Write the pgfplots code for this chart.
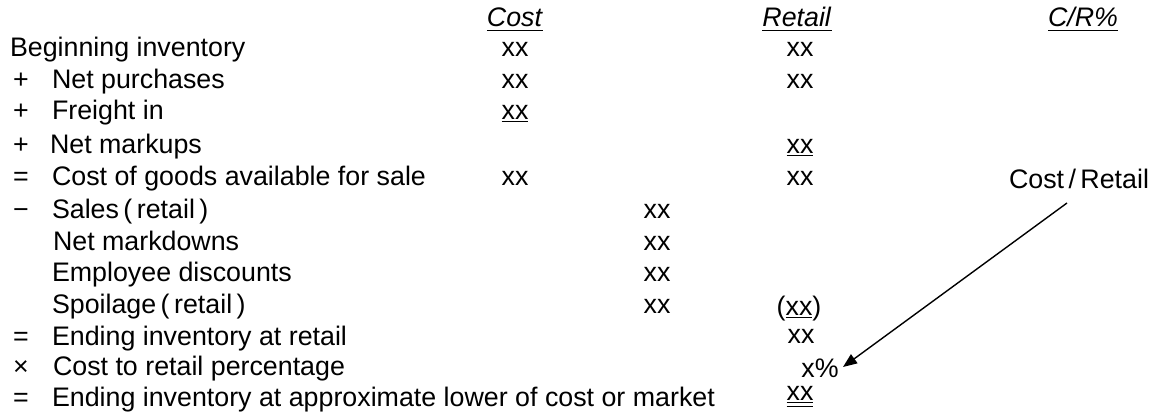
\documentclass[border=0pt]{standalone}
\usepackage{fontspec}
\setmainfont{Liberation Sans}
\usepackage{pgfplots}
\pgfplotsset{compat=1.18}
\usetikzlibrary{arrows.meta}

% everything is placed in pixel coordinates of the 1156x418 layout,
% y counted from the top; text nodes sit on their baselines

\begin{document}
\fontsize{13.4bp}{16bp}\selectfont%
\begin{tikzpicture}[every node/.append style={inner sep=0pt, outer sep=0pt}]
\begin{axis}[
  scale only axis,
  width=578bp, height=209bp,
  xmin=0, xmax=1156, ymin=0, ymax=418,
  y dir=reverse,
  hide axis,
  clip=false,
]
\path (axis cs:0,0) rectangle (axis cs:1156,418);

% column headers
\node[anchor=base] at (axis cs:515,27) {\underline{\textit{Cost}}};
\node[anchor=base] at (axis cs:797,27) {\underline{\textit{Retail}}};
\node[anchor=base] at (axis cs:1083,27) {\underline{\textit{C/R\%}}};

% row labels
\node[anchor=base west] at (axis cs:10,57) {Beginning inventory};
\node[anchor=base] at (axis cs:21,88) {+};
\node[anchor=base west] at (axis cs:52,88) {Net purchases};
\node[anchor=base] at (axis cs:21,119) {+};
\node[anchor=base west] at (axis cs:52,119) {Freight in};
\node[anchor=base] at (axis cs:21,153) {+};
\node[anchor=base west] at (axis cs:50,153) {Net markups};
\node[anchor=base] at (axis cs:21,185) {=};
\node[anchor=base west] at (axis cs:52,185) {Cost of goods available for sale};
\node[anchor=base] at (axis cs:21,218) {−};
\node[anchor=base west] at (axis cs:52,218) {Sales\,(\,retail\,)};
\node[anchor=base west] at (axis cs:53,250) {Net markdowns};
\node[anchor=base west] at (axis cs:52,281) {Employee discounts};
\node[anchor=base west] at (axis cs:52,313) {Spoilage\,(\,retail\,)};
\node[anchor=base] at (axis cs:21,345) {=};
\node[anchor=base west] at (axis cs:52,345) {Ending inventory at retail};
\node[anchor=base] at (axis cs:21,375) {×};
\node[anchor=base west] at (axis cs:53,375) {Cost to retail percentage};
\node[anchor=base] at (axis cs:21,406) {=};
\node[anchor=base west] at (axis cs:52,406) {Ending inventory at approximate lower of cost or market};

% cost column
\node[anchor=base] at (axis cs:515,57) {xx};
\node[anchor=base] at (axis cs:515,88) {xx};
\node[anchor=base] at (axis cs:515,119) {\underline{xx}};
\node[anchor=base] at (axis cs:515,185) {xx};

% middle column
\node[anchor=base] at (axis cs:657,218) {xx};
\node[anchor=base] at (axis cs:657,250) {xx};
\node[anchor=base] at (axis cs:657,281) {xx};
\node[anchor=base] at (axis cs:657,313) {xx};

% retail column
\node[anchor=base] at (axis cs:800,57) {xx};
\node[anchor=base] at (axis cs:800,88) {xx};
\node[anchor=base] at (axis cs:800,153) {\underline{xx}};
\node[anchor=base] at (axis cs:800,185) {xx};
\node[anchor=base] at (axis cs:799,315) {(\underline{xx})};
\node[anchor=base] at (axis cs:801,343) {xx};
\node[anchor=base] at (axis cs:820,377) {x\%};
\node[anchor=base] at (axis cs:800,400) {\underline{\underline{xx}}};

% C/R% column
\node[anchor=base] at (axis cs:1079,188) {Cost\,/\,Retail};

% arrow
\addplot[black, line width=0.7bp, -{Triangle[length=7bp,width=5.5bp]}]
  coordinates {(1067,203) (843,367)};
\end{axis}
\end{tikzpicture}
\end{document}
